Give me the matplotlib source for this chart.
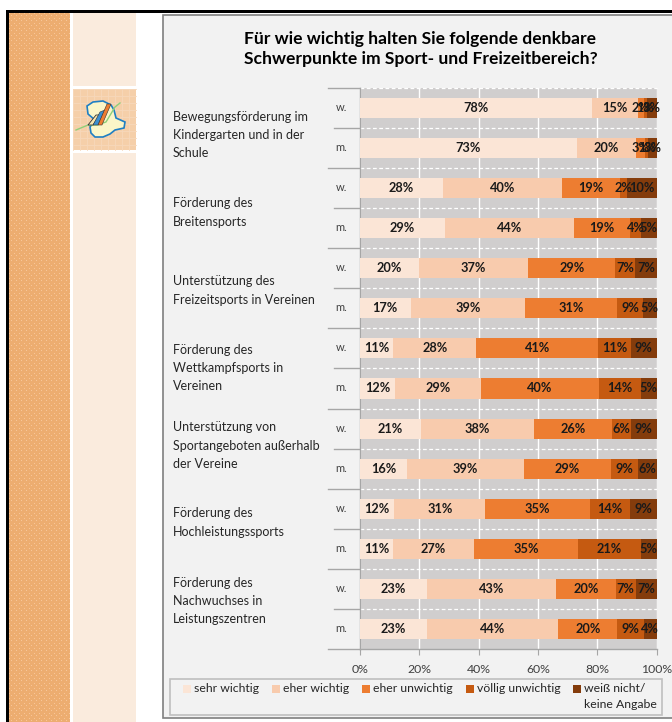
import numpy as np
import matplotlib
matplotlib.use('Agg')
import matplotlib.pyplot as plt
from matplotlib.patches import Rectangle, Polygon

## data
title = 'Für wie wichtig halten Sie folgende denkbare\nSchwerpunkte im Sport- und Freizeitbereich?'
groups = ['Bewegungsförderung im\nKindergarten und in der\nSchule',
          'Förderung des\nBreitensports',
          'Unterstützung des\nFreizeitsports in Vereinen',
          'Förderung des\nWettkampfsports in\nVereinen',
          'Unterstützung von\nSportangeboten außerhalb\nder Vereine',
          'Förderung des\nHochleistungssports',
          'Förderung des\nNachwuchses in\nLeistungszentren']
sexes = ['w.', 'm.'] * 7
legend_names = ['sehr wichtig', 'eher wichtig', 'eher unwichtig', 'völlig unwichtig', 'weiß nicht/\nkeine Angabe']
sehr_wichtig = [78.3, 73.0, 28.1, 28.6, 19.8, 17.2, 11.2, 11.9, 20.7, 15.9, 11.6, 11.2, 22.7, 22.7]
eher_wichtig = [15.4, 20.0, 40.1, 43.7, 37.0, 38.6, 28.1, 29.0, 38.0, 39.3, 30.7, 27.2, 43.4, 44.1]
eher_unwichtig = [2.0, 3.1, 19.4, 18.7, 29.3, 31.0, 40.9, 39.7, 26.3, 29.4, 35.3, 35.2, 20.2, 20.0]
voellig_unwichtig = [0.9, 1.0, 2.3, 3.7, 6.7, 8.6, 11.2, 14.1, 6.4, 9.1, 13.5, 21.1, 6.6, 8.9]
keine_angabe = [3.4, 2.9, 10.1, 5.3, 7.2, 4.6, 8.6, 5.3, 8.6, 6.3, 8.9, 5.3, 7.1, 4.3]
series = [sehr_wichtig, eher_wichtig, eher_unwichtig, voellig_unwichtig, keine_angabe]
colors = ['#fbe5d6', '#f8cbad', '#ed7d31', '#c55a11', '#843c0c']
x_ticks = [0, 20, 40, 60, 80, 100]

## layout in pixels
W, H = 672, 722
plot_l, plot_r = 359.7, 656.7
plot_t, row_h = 87.5, 40.13
plot_b = plot_t + 14 * row_h
group_label_y = [135, 212.5, 290.5, 368, 445.5, 522.5, 601]

plt.rcParams['font.family'] = ['Lato', 'DejaVu Sans']
fig = plt.figure(figsize=(W / 100, H / 100), dpi=100, facecolor='white')

## background layer, y runs downward like in the screenshot
bg = fig.add_axes([0, 0, 1, 1])
bg.axis('off')

## textured strip and tiles
yy, xx = np.mgrid[0:H - 13, 0:61]
dots = ((xx % 5 == 2) & (yy % 5 == 2)) | ((xx % 5 == 0) & (yy % 5 == 0))
strip = np.where(dots[..., None], [0.97, 0.78, 0.60], [0.93, 0.68, 0.44])
bg.imshow(strip, extent=(9, 70, H, 13), interpolation='bilinear', aspect='auto', zorder=1)
bg.set_xlim(0, W)
bg.set_ylim(H, 0)

bg.add_patch(Rectangle((73, 13), 63, 73, fc='#faebdd', ec='none', zorder=1))
bg.add_patch(Rectangle((73, 153), 63, H - 153, fc='#faebdd', ec='none', zorder=1))
bg.add_patch(Rectangle((73, 89), 63, 61, fc='#f5cfa9', ec='none', zorder=1))
for gx in np.arange(73, 136, 7):
    bg.plot([gx, gx], [89, 150], color='#f7d8ba', lw=0.6, zorder=1.1)
for gy in np.arange(89, 150, 7):
    bg.plot([73, 136], [gy, gy], color='#f7d8ba', lw=0.6, zorder=1.1)

## icon in the tile
blob = [(87, 106), (93, 102), (103, 101), (111, 105), (114, 110), (116, 118), (125, 122), (124, 128),
        (115, 130), (110, 134), (103, 137), (95, 137), (91, 133), (90, 127), (95, 120), (88, 114)]
bg.add_patch(Polygon(blob, closed=True, fc='#fbf6c8', ec='#1f7fc4', lw=1.2, zorder=2))
bg.plot([76, 88, 97, 106, 115, 120], [130, 125, 125, 122, 107, 103], color='#8fcf7a', lw=1, zorder=2.1)
bg.add_patch(Polygon([(88, 125), (93, 125), (100, 115), (96, 115)], fc='#f7e6b0', ec='#333333', lw=0.6, zorder=2.2))
bg.add_patch(Polygon([(93, 125), (98, 125), (105, 110), (100, 112)], fc='#3b8fd0', ec='#333333', lw=0.4, zorder=2.2))
bg.add_patch(Polygon([(98, 125), (102, 125), (111, 104), (107, 104)], fc='#ed7d31', ec='#333333', lw=0.4, zorder=2.2))

## chart panel
bg.add_patch(Rectangle((162.5, 15), W, 703, fc='#f2f2f2', ec='#7f7f7f', lw=1.2, zorder=1))

## black frame
bg.add_patch(Rectangle((6, 10), W, 3, fc='black', ec='none', zorder=3))
bg.add_patch(Rectangle((6, 10), 3, H, fc='black', ec='none', zorder=3))

## title and row texts
bg.text(420.5, 49, title, ha='center', va='center', fontsize=12.6, fontweight='bold',
        color='black', linespacing=1.24, zorder=4)
for name, y in zip(groups, group_label_y):
    bg.text(173, y, name, ha='left', va='center', fontsize=9, color='#262626', linespacing=1.62, zorder=4)
for i, s in enumerate(sexes):
    bg.text(341.5, plot_t + (i + 0.5) * row_h - 0.5, s, ha='center', va='center', fontsize=8, color='#404040', zorder=4)

## axis separators on the left
for i in range(15):
    x0 = 328 if i % 2 == 0 else 334
    if i == 14:
        x0 = 328
    bg.plot([x0, plot_l], [plot_t + i * row_h] * 2, color='#a6a6a6', lw=1, zorder=2)

## chart
ax = fig.add_axes([plot_l / W, 1 - plot_b / H, (plot_r - plot_l) / W, (plot_b - plot_t) / H])
ax.set_facecolor('#d0cece')
ax.set_xlim(0, 100)
ax.set_ylim(13.5, -0.5)
ypos = np.arange(14)
left = np.zeros(14)
for vals, col in zip(series, colors):
    vals = np.array(vals)
    ax.barh(ypos, vals, left=left, height=0.5, color=col, edgecolor='none', zorder=3)
    for y, v, l in zip(ypos, vals, left):
        ax.text(l + v / 2, y, '%d%%' % round(v), ha='center', va='center', fontsize=9.2,
                fontweight='bold', color='#1a1a1a', zorder=5, clip_on=False)
    left = left + vals

ax.set_axisbelow(True)
ax.set_xticks(x_ticks)
ax.set_xticklabels(['%d%%' % t for t in x_ticks], fontsize=8.8, color='#404040')
ax.set_yticks(ypos)
ax.set_yticklabels([])
ax.xaxis.grid(True, color='white', lw=1, zorder=1)
ax.set_yticks(ypos[:-1] + 0.5, minor=True)
ax.yaxis.grid(True, which='minor', color='white', lw=0.9, ls=(0, (3, 2)), zorder=1)
ax.tick_params(axis='x', length=4, color='#a6a6a6', pad=6.5)
ax.tick_params(axis='y', which='major', length=2, direction='in', color='#a6a6a6')
ax.tick_params(axis='y', which='minor', length=0)
for side in ['top', 'right']:
    ax.spines[side].set_visible(False)
for side in ['left', 'bottom']:
    ax.spines[side].set_color('#a6a6a6')
    ax.spines[side].set_linewidth(1)

## top dashed line
ax.axhline(-0.5, color='white', lw=0.9, ls=(0, (3, 2)), zorder=1, clip_on=False)

## legend, hand placed like the original box
top = fig.add_axes([0, 0, 1, 1], facecolor='none')
top.set_xlim(0, W)
top.set_ylim(H, 0)
top.axis('off')
top.add_patch(Rectangle((170, 679), 492, 36, fc='#f2f2f2', ec='#bfbfbf', lw=1.2))
sq_x = [183, 271.7, 362, 466, 573]
for name, col, x in zip(legend_names, colors, sq_x):
    top.add_patch(Rectangle((x, 685), 8, 8, fc=col, ec='none'))
    top.text(x + 11, 689, name.split('\n')[0], ha='left', va='center', fontsize=8.8, color='#262626')
    if '\n' in name:
        top.text(x + 11, 705, name.split('\n')[1], ha='left', va='center', fontsize=8.8, color='#262626')

fig.savefig('out.png', dpi=100)
